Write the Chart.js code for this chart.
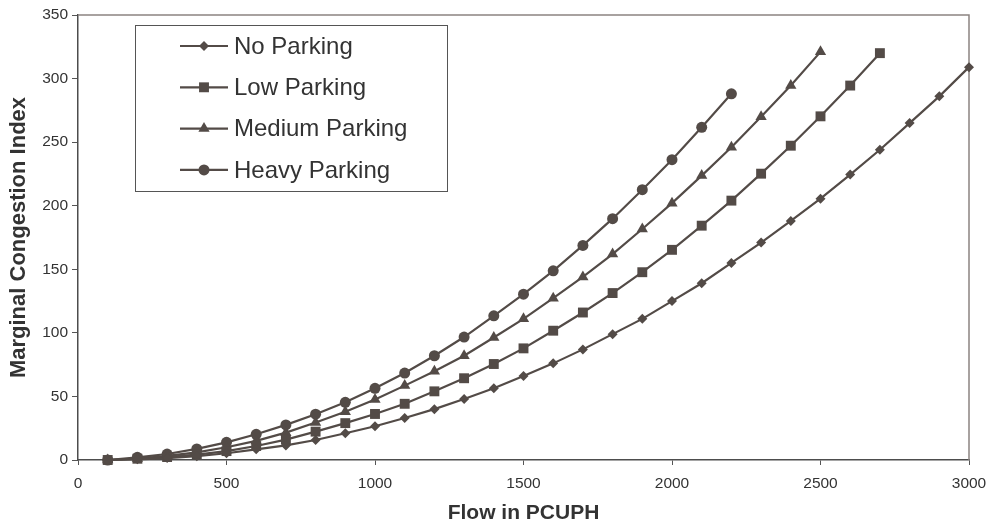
<!DOCTYPE html>
<html>
<head>
<meta charset="utf-8">
<script src="https://cdn.jsdelivr.net/npm/chart.js@4.4.0/dist/chart.umd.min.js"></script>
<style>
  html, body { margin: 0; padding: 0; background: #fff; }
  #wrap { width: 989px; height: 527px; }
</style>
</head>
<body>
<div id="wrap"><canvas id="grafik" width="989" height="527"></canvas></div>
<script>
// Flow in PCUPH (x values)
const flow = [100, 200, 300, 400, 500, 600, 700, 800, 900, 1000,
              1100, 1200, 1300, 1400, 1500, 1600, 1700, 1800, 1900, 2000,
              2100, 2200, 2300, 2400, 2500, 2600, 2700, 2800, 2900, 3000];

// Marginal congestion index
const noParking = [0, 0.5, 1.5, 3, 5.3, 8.4, 11.5, 15.7, 21, 26.5,
                   33, 40, 48, 56.5, 66, 76, 87, 99, 111, 125,
                   139, 155, 171, 188, 205.5, 224.5, 244, 265, 286, 309];
const lowParking = [0, 1, 2.3, 4.3, 7, 11, 16, 22.3, 29, 36.2,
                    44.2, 54, 64.3, 75.5, 87.8, 101.7, 116, 131.3, 147.7, 165.3,
                    184.3, 204, 225.2, 247.2, 270.3, 294.5, 320];
const mediumParking = [0, 1.2, 3.3, 6, 10, 15, 21.5, 29.5, 38, 47.5,
                       58.5, 69.8, 82, 96.3, 111, 127.3, 144, 162, 181.7, 202,
                       223.7, 246, 270, 294.5, 321];
const heavyParking = [0, 2.1, 4.7, 8.7, 13.9, 20.2, 27.6, 36, 45.4, 56.4,
                      68.4, 82, 96.7, 113.4, 130.4, 148.8, 168.8, 189.8, 212.6, 236.2,
                      261.7, 288];

const seriesNames = ["No Parking", "Low Parking", "Medium Parking", "Heavy Parking"];
const seriesValues = [noParking, lowParking, mediumParking, heavyParking];
const markers = ["rectRot", "rect", "triangle", "circle"];
const markerSizes = [5, 7, 6.5, 5.5];

const xTicks = [0, 500, 1000, 1500, 2000, 2500, 3000];
const yTicks = [0, 50, 100, 150, 200, 250, 300, 350];

const boja = "#534b47";
const font = "'Liberation Sans', Arial, Helvetica, sans-serif";

const datasets = seriesValues.map((vals, i) => ({
    label: seriesNames[i],
    data: vals.map((v, j) => ({ x: flow[j], y: v })),
    borderColor: boja,
    backgroundColor: boja,
    borderWidth: 2.2,
    pointStyle: markers[i],
    pointRadius: markerSizes[i],
    pointHoverRadius: markerSizes[i],
    pointBorderWidth: 0,
    tension: 0,
    clip: false
}));

// Okvir: gornja i desna ivica svjetlije boje
const okvirPlugin = {
    id: "okvir",
    beforeDatasetsDraw(chart) {
        const { ctx, chartArea: a } = chart;
        ctx.save();
        ctx.strokeStyle = "#8c8481";
        ctx.lineWidth = 1.5;
        ctx.beginPath();
        ctx.moveTo(a.left, a.top);
        ctx.lineTo(a.right, a.top);
        ctx.lineTo(a.right, a.bottom);
        ctx.stroke();
        ctx.restore();
    }
};

// Legenda u kutiji unutar grafa
const legendaPlugin = {
    id: "legenda",
    afterDatasetsDraw(chart) {
        const { ctx, chartArea: a } = chart;
        const lijevo = a.left + 57, vrh = a.top + 10;
        const sirina = 312, visina = 166;
        ctx.save();
        ctx.fillStyle = "#fff";
        ctx.fillRect(lijevo, vrh, sirina, visina);
        ctx.strokeStyle = "#555";
        ctx.lineWidth = 1;
        ctx.strokeRect(lijevo + 0.5, vrh + 0.5, sirina, visina);
        chart.data.datasets.forEach((ds, i) => {
            const y = vrh + 21 + i * 41.3;
            ctx.strokeStyle = boja;
            ctx.lineWidth = 2.2;
            ctx.beginPath();
            ctx.moveTo(lijevo + 45, y);
            ctx.lineTo(lijevo + 93, y);
            ctx.stroke();
            ctx.fillStyle = boja;
            Chart.helpers.drawPoint(ctx, { pointStyle: ds.pointStyle, radius: ds.pointRadius, borderWidth: 0 }, lijevo + 69, y);
            ctx.fillStyle = "#333";
            ctx.font = "24px " + font;
            ctx.textBaseline = "middle";
            ctx.textAlign = "left";
            ctx.fillText(ds.label, lijevo + 99, y + 1);
        });
        ctx.restore();
    }
};

new Chart(document.getElementById("grafik").getContext("2d"), {
    type: "line",
    data: { datasets: datasets },
    options: {
        responsive: false,
        animation: false,
        events: [],
        layout: { padding: { top: 15, right: 20, bottom: 0, left: 0 } },
        plugins: {
            legend: { display: false },
            tooltip: { enabled: false }
        },
        scales: {
            x: {
                type: "linear",
                min: 0,
                max: 3000,
                afterBuildTicks: s => { s.ticks = xTicks.map(v => ({ value: v })); },
                afterFit: s => { s.height = 67; s.paddingLeft = 0; s.paddingRight = 0; },
                grid: { drawOnChartArea: false, drawTicks: true, tickLength: 5, color: "#555" },
                border: { display: true, color: "#4d4d4d", width: 1.5 },
                ticks: {
                    color: "#333",
                    font: { family: font, size: 15.5 },
                    padding: 9,
                    maxRotation: 0,
                    callback: v => String(v)
                },
                title: {
                    display: true,
                    text: "Flow in PCUPH",
                    color: "#333",
                    font: { family: font, size: 21, weight: "bold" },
                    padding: 1
                }
            },
            y: {
                type: "linear",
                min: 0,
                max: 350,
                afterBuildTicks: s => { s.ticks = yTicks.map(v => ({ value: v })); },
                afterFit: s => { s.width = 78; },
                grid: { drawOnChartArea: false, drawTicks: true, tickLength: 6, color: "#555" },
                border: { display: true, color: "#4d4d4d", width: 1.5 },
                ticks: {
                    color: "#333",
                    font: { family: font, size: 15.5 },
                    padding: 4,
                    callback: v => String(v)
                },
                title: {
                    display: true,
                    text: "Marginal Congestion Index",
                    color: "#333",
                    font: { family: font, size: 22, weight: "bold" },
                    padding: 6
                }
            }
        }
    },
    plugins: [okvirPlugin, legendaPlugin]
});
</script>
</body>
</html>
